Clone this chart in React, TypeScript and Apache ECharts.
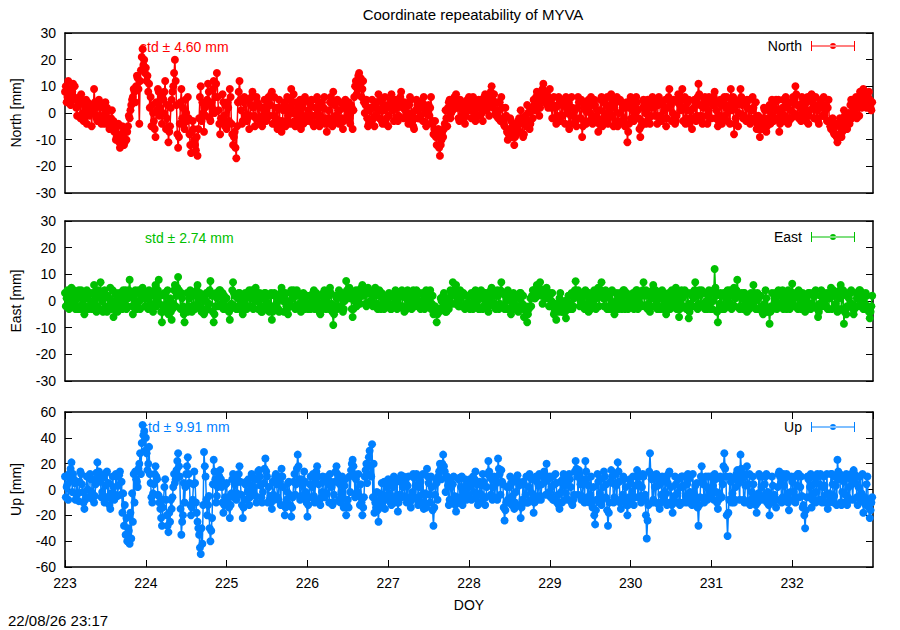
import React, { useEffect, useRef } from "react";
import * as echarts from "echarts";

// Sampling: first epoch (DOY) and step in days between plotted epochs.
// "Main" epochs are at START + i*STEP, "fill" epochs half a step later.
const START_DOY = 223;
const STEP_DAYS = 0.02;

// North residuals [mm], main epochs, 50 per day, DOY 223..232
const northValues = [
  8, 4, 12, 7, 5, 11, 10, 2, 3, 6, 7, 0, -2, 5, 4, -1, 1, 3, 9, 2, -3, 5, 3, -2, -1, 4, 2, -3, -5, 1, -3, -6, -9, -4, -13, -8, -7, -11, -10, -5, -2, 3, 6, 8, 10, 13, -4, 16, 24, 20,
  17, 14, 11, 6, 3, -3, -9, 1, 8, 2, -4, 5, 12, -2, -11, -5, 5, 10, 20, 3, -13, -4, 9, 2, -6, 0, 6, -8, -15, -3, -10, -14, -16, -2, 10, 4, -7, -1, 5, 8, -3, 2, 12, 6, 15, 1, -8, -3, 4, -5,
  -6, 2, 9, -4, -12, -7, -17, 4, 12, 1, -3, 6, 5, -2, -6, 3, 8, -1, -2, 4, 3, -4, -5, 2, 1, -2, 6, 3, 8, -1, -4, 2, 2, -3, -7, 1, 4, -3, -1, 5, 9, 0, -3, 4, 2, -2, -6, 3, 5, -1,
  -2, 4, 3, -1, -5, 2, 6, -3, -1, 4, 2, -4, -7, 1, 4, -2, 8, 3, -3, 1, 1, -3, -6, 2, 4, -1, -2, 3, -6, 6, 12, 9, 15, 13, 9, 4, 3, -2, -4, 2, 5, -2, -1, 4, 7, 1, -3, 3, 6, -2,
  -5, 2, 7, 1, 2, -2, -3, 4, 8, 2, 4, -1, -2, 3, 5, -3, -6, 1, 3, -2, -1, 4, 6, 0, -4, 3, 2, -4, -8, -3, -12, -6, -16, -10, -9, -4, -2, 2, 5, 0, 1, 6, 7, 2, -3, 3, 4, -2, -1, 5,
  6, 1, 2, 5, -3, 3, 5, -1, 0, 4, 7, 1, 3, 6, 10, 2, 4, -1, -2, 4, 6, -2, -5, -1, -10, -6, -3, -8, -12, -4, -6, -2, 1, -4, -8, -1, 3, -3, -4, 2, 5, 1, 8, 3, 2, 7, 11, 4, 6, 2,
  9, 2, 3, -2, -4, 3, 5, -1, -1, 4, 6, 0, -6, -1, 2, -4, -3, 2, 4, -2, -9, -3, 1, 4, 5, 0, -2, 3, 3, -3, -7, 1, 6, -2, 0, 3, -4, 1, 7, -1, 2, 4, -5, 0, 4, -3, -2, 2, -11, -4,
  6, 1, -3, 2, 4, -2, -9, -3, 5, 0, 1, 4, -4, 2, 5, -1, -1, 3, 4, -3, 3, 1, -5, 2, 9, 3, 0, -2, -3, 4, 6, 1, 9, 2, -4, 1, 5, -2, -6, 2, 4, -1, 11, 3, -3, 2, 6, -1, 1, 4,
  -2, 3, 8, 1, -5, -1, 3, -2, 6, 2, -3, 3, 9, 1, -8, -2, 4, 0, 9, 3, -1, 4, 5, -2, -4, 1, 2, -3, -6, -1, -9, -3, -2, 1, -7, -2, 3, -1, -1, 2, 5, -2, -7, 0, 2, -3, 6, 2, -3, 1,
  4, 0, 10, 3, -2, 2, 6, -1, 1, 4, -4, 1, 7, 2, 3, -2, -3, 2, 5, -1, -1, 3, 2, -3, -6, -2, -8, -4, -11, -5, -4, -7, 1, -3, -6, 0, 3, -2, 5, 1, -2, 4, 8, 2, 9, 4, 2, 6, 5, 1,
];
// North residuals [mm], fill epochs
const northFill = [
  10, 6, 9, 3, 8, 6, 5, -1, 5, -2, 4, -3, 2, -4, 1, 3, -5, 0, 4, -2, 3, -1, -4, 2, -4, 0, -2, -6, -2, -4, -7, -10, -5, -11, -9, -5, -12, -6, -7, -1, 1, 5, 9, 4, 14, 9, 12, 21, 18, 15,
  12, 8, 2, -5, 0, -6, 4, 9, -1, 6, 0, 8, -6, 3, -7, 2, 8, 15, 12, -8, -9, 4, -2, -4, 5, -3, -2, -12, -7, -6, -12, -9, -6, 6, -3, 0, 2, 3, 11, -2, 4, 9, 0, 11, 6, -4, -2, 7, -1, 3,
  4, -3, 6, -8, -9, -13, -5, 8, 5, -4, 4, -1, -3, 5, -1, 6, 2, -5, 6, -2, -4, 2, -1, 5, -3, 4, -1, 7, -4, 6, -2, -6, 5, -4, -3, 3, -5, 6, 2, -4, 4, 7, -5, 0, -4, 5, 2, -4, 6, -3,
  1, -3, 5, -4, -1, 5, 1, -5, 3, -2, 6, -2, -3, -4, 6, -5, 4, -1, 5, -4, 4, -2, -3, 5, 1, 4, -4, 2, 1, 10, 7, 14, 11, 6, 12, 0, 5, -5, 1, -3, 2, -5, 4, 1, -2, 5, -4, 1, -4, 3,
  -1, 5, 3, -3, 5, 2, -1, 6, 4, -2, 1, 3, -4, 6, 0, -5, -2, 5, -2, 4, 2, -3, 3, -5, 1, -1, 6, -3, -6, -9, -8, -13, -12, -7, -6, 1, -5, 4, -2, 3, 5, 2, 4, -2, 5, -1, 1, -4, 3, 1,
  3, -2, 6, 0, 4, -1, 2, 5, -3, 6, 3, 5, -1, 8, 5, 7, 0, 4, 1, -3, 2, -4, 2, -7, -8, -2, -9, -5, -9, -8, -3, -7, -2, -9, -3, -5, 0, -6, 1, -2, 3, 6, 4, -1, 5, 9, 6, 8, 3, 5,
  5, -2, 6, 2, -1, 6, -3, 3, 5, -4, 2, 4, -4, 6, -1, 1, -5, 6, -2, 5, -5, 3, -4, 2, -3, 6, -4, 5, -1, 1, -4, 5, -5, 4, -3, 6, -2, 3, 5, -5, -3, 6, -4, 5, -3, 2, -5, 4, -7, 2,
  -2, 4, -1, 6, 1, -6, -5, 2, 3, -4, 5, -2, -1, 6, 2, 3, -4, 6, -1, 4, -2, 5, -2, 6, 4, -3, 5, -4, -1, 7, 3, 5, -3, 6, -2, 4, -4, 1, -2, 5, -3, 6, 7, -1, -4, 5, 3, -4, 6, -2,
  5, 6, -2, 4, -3, 5, -4, 4, -1, 6, 1, -4, 5, 6, -4, 3, -5, 5, 6, -2, 4, -3, 2, 5, -3, 6, -2, 4, -4, -6, -5, -6, 2, -4, -5, 1, -4, 5, -3, 4, 1, 5, -4, -3, 5, -1, 3, -4, 4, -2,
  6, 5, 7, -1, 3, -3, 4, 2, -3, 6, -1, 5, 4, -2, 6, 1, -4, 4, -1, 6, 2, -3, 5, -5, -3, -7, -5, -9, -8, -2, -9, -3, -1, -5, -2, -4, 5, -1, 2, 6, 3, -1, 6, 5, 3, 7, 4, 8, 2, 4,
];

// East residuals [mm], main epochs
const eastValues = [
  3, 1, -1, 2, 5, 0, 1, -2, -3, 2, 4, -1, -5, 1, 2, -2, 0, 3, 6, 1, -2, 2, 7, 0, 1, -2, -4, 1, 5, -1, -6, 0, 2, -2, -1, 3, 4, -1, -3, 1, 8, 2, -5, 0, 3, -2, 0, 2, 5, 1,
  -2, 1, 4, -1, -3, 2, 6, 0, 8, 2, -8, -2, 2, -1, -5, 1, -7, -1, 6, 2, 9, 3, 3, -2, -8, -3, -4, 1, 2, -2, -2, 2, 6, 0, 1, -3, -5, 0, 3, -1, 7.5, 2, -8, -2, 1, 3, 4, -1, -3, 1,
  1, -2, -7, -1, 7, 2, -3, 1, 3, -1, -5, 0, 2, -2, 4, 1, -2, 2, 5, 0, 0, -2, -4, 1, 3, -1, -1, 2, -7, -2, 2, -1, -3, 1, 5, 0, 1, -2, -5, 0, 4, 1, -2, 2, 3, -1, -4, 0, 1, -2,
  2, -1, -3, 1, 4, -1, 0, 2, -5, -1, 3, 0, -2, 2, 5, -1, -9, -2, 1, -2, 3, 1, -4, 0, 7.5, 3, 5, 1, -6, 0, 4, 2, 1, 3, 6, 2, -1, 3, 3, 0, 0, 2, 5, -1, -2, 2, 3, -2, -1, 1,
  1, -1, -3, 2, 3, 0, -1, 2, 2, -2, -4, 1, 4, -1, 0, 2, -2, 1, 3, -1, -3, 0, 2, -2, -1, 1, 4, -1, -5, -2, -8, -3, -3, 0, 2, -1, -4, -1, 1, 3, 7, 2, 6, 0, -2, 1, 3, -2, -1, 2,
  2, -1, -2, 1, 4, 0, -3, 1, 1, -2, 3, 0, -4, 1, 5, 2, -1, 2, 2, -1, 7, 3, -3, 0, 4, 1, -5, -1, 1, -2, -2, 1, 3, -1, -6, -2, -8, -3, 1, 2, 4, 1, 6, 3, 7, 2, 2, 4, 5, 1,
  3, 0, -2, -4, -7, -2, 1, -1, -4, 0, -6.5, -2, 2, -1, -3, 1, 7.4, 2, 3, 0, -1, 2, 4, -1, -4, 0, 2, -2, -2, 1, 5, 2, 7, 1, 1, -2, -3, 1, 3, -1, -5, 0, 2, -2, 0, 2, 4, -1, -2, 1,
  1, -1, -3, 1, 4, 0, -1, 2, 7, 3, 2, -1, -4, 1, 6, 2, 0, -2, -3, 1, 3, -1, -5, 0, 2, -2, -2, 1, 5, 0, -6, -1, 1, 2, 3, -2, -6.5, -1, 2, 1, 7, 2, -1, 3, 4, -1, -3, 0, 2, -2,
  3, 0, 12, 2, -8, -1, 2, -2, -3, 1, 4, -1, -1, 2, 5, 1, 8, 2, -2, 1, 3, -1, -4, 0, 1, 2, 6, 0, -3, 1, 2, -2, -5, -1, 1, -3, -8.5, -2, -3, 1, 2, -1, -1, 2, 4, 0, -2, 1, 3, -1,
  6.5, 1, -2, 2, 4, -1, 1, -2, -4, 0, 3, -1, -1, 2, 2, -2, -6, -1, 4, 1, 0, -2, -3, 1, 5, 2, 2, -1, -4, 1, 6, 2, -8.5, -3, -2, 1, 3, -1, -5, -2, 1, 2, 4, 0, -3, -1, 2, -3, -6.5, -2,
];
// East residuals [mm], fill epochs
const eastFill = [
  -2, 4, -3, 3, -2, 4, -3, 2, 4, -3, 1, 3, -2, 4, -3, 3, -3, -1, 3, -4, 4, -3, 3, -4, 4, -3, 2, -2, -3, 4, -3, 3, -4, 3, 1, -3, 2, 4, -2, 4, 3, -2, 1, 4, -3, 4, -3, 3, 1, -2,
  3, -3, 2, 3, -4, 4, -2, 4, -1, -4, -4, 3, -3, 4, -2, -4, -3, 4, -2, 5, 4, -3, 1, -5, -4, 3, -2, 4, -4, 3, -3, 4, -2, 3, -4, 2, -4, 3, -3, 4, 3, -4, -5, 3, -2, 4, -2, 3, 2, -3,
  -3, -4, -3, 4, 3, -2, -3, 3, -3, 2, -3, 3, -3, 2, -2, 4, -3, 4, 2, -3, 3, -4, -2, 3, -3, 2, -4, 3, -4, 3, -3, 2, -4, 3, 2, -4, 3, -3, -2, 3, -2, 4, -3, 4, -2, 2, -2, 3, -3, 2,
  -3, 2, -2, 3, -3, 3, -3, -4, 2, -3, 4, -3, 3, -3, 3, -4, -5, 2, -3, 4, -2, 3, -3, 2, 4, 1, 3, -3, -3, 3, -2, 4, -1, 5, 3, 4, -2, 5, -1, 3, -2, 4, 2, -3, 4, -3, 1, -3, 2, -2,
  3, -3, 2, -2, 4, -3, 3, -2, 4, -3, 2, -3, 3, -2, -3, 4, -2, 4, -2, 3, -2, 3, -3, 4, -2, 3, -3, 2, -4, -3, -5, -4, 1, -3, 3, -4, 1, -3, 4, -1, 4, -1, 3, -2, 4, -2, 3, -3, 2, -2,
  -3, 3, -3, 3, -2, 3, -3, 4, -3, 3, -2, 3, -2, 4, -1, 3, -3, 4, -3, 4, 3, -2, 2, -3, 3, -3, -2, 3, -3, 2, -4, 3, -3, 2, -3, -4, -5, -2, -2, 4, 1, 4, 2, 5, 3, -1, 3, 1, 3, -2,
  -2, 3, -5, -1, -3, -4, 3, -4, -2, -4, -3, 2, -3, 3, -2, 4, 3, 4, -2, 3, 3, -3, 2, -3, 3, -3, -2, 4, -3, 3, -2, 4, 2, -2, 4, -3, 2, -3, 4, -3, -2, 3, -3, 3, -3, 4, -3, 3, -3, 2,
  -2, 3, -2, 4, -3, 3, -2, 4, -2, 4, -3, 3, -2, 4, -2, 4, -3, 2, -3, 4, -3, 2, -3, 3, -3, 4, -2, 3, -3, 3, -3, 4, -2, 4, -3, 3, -4, 3, -2, 4, 3, -3, 4, -2, 3, -2, 3, -3, 4, -3,
  -3, 4, 5, -4, -3, 3, -3, 3, -2, 3, -2, 4, -3, 3, -2, 4, 3, -3, 3, -3, 3, -3, 2, -3, 3, -2, 3, -3, 3, -3, 2, -4, -2, 4, -4, -4, -4, 3, -2, 3, -3, 4, -2, 3, -3, 3, -3, 4, -3, 3,
  3, -2, 3, -3, 3, -3, 3, -3, 2, -3, 3, -3, 3, -2, 4, -3, -4, 2, -2, 3, -2, 3, -3, 3, -3, 4, -2, 3, -3, 4, -3, 4, -4, -5, 3, -2, 4, -3, -3, 3, -2, 4, -2, 3, -3, 3, -2, -4, -4, 2,
];

// Up residuals [mm], main epochs
const upValues = [
  10, 2, -8, 8, 21, 12, 5, -4, -3, 6, 12, -2, -15, -6, 0, 9, 8, -3, -10, 4, 21, 14, 6, -2, -5, 3, 14, 5, -15, -6, 2, -4, 10, 3, 14, 6, -3, -12, -22, -30, -42, -38, -25, -10, 8, 2, 20, 12, 50, 45,
  40, 15, 33, 5, -10, 4, 18, 8, -5, -15, -28, -8, 8, -20, -33, -25, -15, 2, 5, 15, 28, 10, -35, -20, -10, 12, 25, 5, -20, -8, 14, -10, -25, -35, -50, -42, 29, 10, -20, -5, -40, -22, 23, 8, -5, 6, 15, 2, -18, -6,
  5, -6, -22, -3, 12, 4, -8, 6, 18, -4, -22, -8, 6, -2, -12, 3, 10, 2, -5, 8, 15, 3, -10, 5, 24, 10, 2, -5, -15, -4, 10, 4, -8, 6, 16, 2, -20, -8, 5, -4, -21, -6, 12, 4, 27, 8, -5, 3, 14, -2,
  -21, -6, 10, 2, -5, 7, 18, 4, -12, -2, 6, -4, -3, 5, 12, 2, -10, 6, 18, 8, 4, -2, -7, 3, -20, -8, 10, 15, 23, 12, 8, -2, -5, 4, -20, -6, 15, 5, 25, 12, 35, 20, -10, -2, -25, -8, 5, -4, -15, 2,
  8, -3, -12, 2, 5, -5, -17, -4, 11, 2, -5, 4, 3, -6, -14, -2, 9, 3, -8, 2, 6, -4, -15, -3, 16, 5, -10, 2, -28, -4, 5, 10, 20, 8, 27, 14, 10, 3, -8, 2, 4, -5, -17, -6, 9, 2, -12, -2, 3, -4,
  -5, 3, 6, -2, 14, 4, -10, -3, 3, 6, -12, 2, 22, 10, 8, 2, -6, 5, 24, 12, 15, 4, -24, -10, -8, 2, 5, -5, -15, -2, 11, 3, -22, -8, 4, -4, -10, 2, 9, -3, -18, -5, 6, 3, -5, 4, 12, 6, 20, 8,
  10, 2, -8, 4, 5, -4, -15, -2, 8, 3, -3, 5, 12, 2, -12, -4, 22, 10, 15, 4, -5, 6, 22, 8, 3, -4, -10, 2, -27, -8, 6, -3, -12, 2, 10, 4, -28, -10, 15, 5, -6, 3, 21, 6, -15, -4, 8, 2, -20, -6,
  5, -2, -12, 3, 15, 4, -5, 2, 10, -4, -38, -12, 28, 8, -8, 2, 12, 3, -15, -4, 6, -2, -3, 5, 14, 2, -18, -5, 4, -3, -10, 2, 10, 3, -5, 4, 8, -2, -12, -3, 3, 5, -28, -6, 18, 4, -6, 2, 10, -2,
  -4, 3, 12, -2, -15, -3, 8, 4, 28, 10, -36, -8, 6, -3, -10, 2, 15, 5, 27, 8, -8, 3, 18, 4, -12, -2, 4, -5, -18, -3, 10, 2, -5, 4, 12, -2, -20, -6, 3, -4, -14, 2, 14, 5, -6, 3, 9, -3, -16, -2,
  6, -2, -10, 3, 12, 2, -5, -12, -30, -6, 8, 2, -14, -3, 5, -2, 10, 4, -8, 2, 3, -4, -15, -3, 12, 4, -5, 3, 23, 8, -10, -2, 6, -4, -12, 2, 8, 4, 15, 5, -6, 2, 10, -3, -18, -6, 4, -8, -22, -10,
];
// Up residuals [mm], fill epochs
const upFill = [
  -6, 4, 12, 16, -2, 8, -8, 6, -9, 14, 4, -10, -8, 10, -6, 12, -7, 8, -5, 13, 8, 12, -6, 9, -10, 13, -6, -12, -3, 10, -8, 12, -5, 11, -4, -18, -28, -35, -40, -32, -18, -3, 12, 14, 6, 16, 28, 36, 42, 30,
  28, 20, 12, -6, -3, 12, 10, -4, -10, -22, -14, 2, -8, -28, -18, -8, -6, 12, 8, 22, 18, -15, -25, 5, 2, 18, 12, -12, -14, 4, 5, -18, -30, -45, -30, -12, 18, -8, -12, -30, -32, 4, 14, -10, 2, 10, 8, -10, -12, 4,
  -10, -14, -12, 8, -6, 10, -3, 12, 6, -12, -14, 4, -8, 8, -6, 12, -2, 8, -10, 14, 10, -6, -2, 16, 14, -10, -8, -10, 6, -8, 12, -6, 10, -12, 10, -12, -14, -2, 6, -12, -14, 6, -4, 16, 18, -8, 8, -6, 6, -10,
  -12, 4, -6, 12, -10, 14, 10, -8, -6, 10, -6, 8, 10, -10, 6, -12, -4, 14, 12, -8, -10, 10, -14, 8, -12, -14, -2, 20, 18, -6, -4, 12, -12, -10, -14, 10, 20, 18, 30, 10, -6, -18, -14, -16, -3, -10, -14, 6, -8, -6,
  6, -10, -6, 10, -10, 8, -10, 6, -6, 10, 8, -10, 10, -10, -8, 12, -6, 12, -12, 10, -10, 12, -10, -14, 10, -4, 10, -16, -14, 8, -8, 14, 16, 20, 18, -2, 10, -12, 8, -10, 10, -12, -10, 8, -10, 10, -6, 8, -8, 6,
  8, -8, 10, 8, -6, -12, 6, -10, 12, -6, -6, 12, 14, -4, -8, 10, 8, -8, 16, -4, 6, -14, -16, 2, -10, 10, -12, 6, -10, 8, 6, -12, -14, 6, -10, 10, -10, 12, -8, 8, -10, 10, -8, 12, -8, 10, 14, -4, 10, -2,
  -6, 10, -8, 12, -10, -12, 6, -10, 12, -8, 10, -8, 8, -10, -8, 14, 16, -4, 12, -8, 8, -10, 14, -6, -10, 10, -14, -20, -16, 12, -10, 8, -8, 14, -6, -16, -18, 6, 10, -10, 12, -8, 14, -10, -8, 10, -10, -12, -12, 8,
  -8, 10, -6, 10, -6, 10, -10, 12, -8, -20, -24, 14, 12, -10, 10, -10, 8, -12, -10, 10, -8, 10, -12, 12, -10, -12, -10, 10, -10, 8, -12, 10, -10, 10, -10, 12, -10, -8, 12, -10, -10, -14, -12, 10, 6, -10, 10, -8, -6, 10,
  10, -8, 8, -10, -8, 10, -6, 18, 16, -20, -18, 10, -10, 8, -8, 12, 8, -8, 16, 12, -10, 12, -10, 12, -8, 10, -10, -12, -10, 12, -8, 10, -8, 10, -10, -12, -10, 10, -10, -8, -8, 12, 10, -10, 12, -8, 12, -10, -8, 10,
  -8, 10, -6, 12, -6, 10, -14, -20, -16, 10, -6, 12, -8, 10, -10, 12, -8, 12, -10, 10, -10, 12, -10, -8, 12, -10, 10, -12, 14, 12, -12, 10, -10, 12, -6, -8, 12, -8, 12, 10, -12, 10, -8, 12, -10, -12, 10, -14, -16, -6,
];

const seriesNames = ["North", "East", "Up"];
const seriesColors = ["#ff0000", "#00c000", "#0080ff"];
const stdTexts = ["std \u00b1 4.60 mm", "std \u00b1 2.74 mm", "std \u00b1 9.91 mm"];
const yLimits = [
  { min: -30, max: 30, interval: 10 },
  { min: -30, max: 30, interval: 10 },
  { min: -60, max: 60, interval: 20 },
];
const xLimits = { min: 223, max: 233, interval: 1 };
const titleText = "Coordinate repeatability of MYVA";
const xAxisTitle = "DOY";
const timestampText = "22/08/26 23:17";

const FONT = '"Liberation Sans", Arial, sans-serif';
const LEGEND_ICON =
  "path://M0,0h1v10h-1z M43,0h1v10h-1z M0,4.5h44v1h-44z M19,5a3,3 0 1,0 6,0a3,3 0 1,0 -6,0z";

// Merge main and fill epochs into one time-ordered list of [DOY, value]
function toPairs(main: number[], fill: number[]) {
  const out: number[][] = [];
  main.forEach((v, i) => {
    const t = START_DOY + i * STEP_DAYS;
    out.push([t, v]);
    if (i < fill.length) out.push([t + STEP_DAYS / 2, fill[i]]);
  });
  return out;
}

export default function App() {
  const ref = useRef<HTMLDivElement>(null);

  useEffect(() => {
    if (!ref.current) return;
    const chart = echarts.init(ref.current, undefined, { renderer: "svg" });
    const mains = [northValues, eastValues, upValues];
    const fills = [northFill, eastFill, upFill];

    const grids = [
      { left: 65, right: 27, top: 33, height: 160 },
      { left: 65, right: 27, top: 221, height: 160 },
      { left: 65, right: 27, top: 412, height: 155 },
    ];

    const axisLineStyle = { color: "#000", width: 1.5 };
    const tickStyle = { color: "#000", width: 1 };

    const xAxes: any[] = [];
    const yAxes: any[] = [];
    grids.forEach((_, i) => {
      const isBottom = i === 2;
      xAxes.push({
        gridIndex: i,
        type: "value",
        position: "bottom",
        min: xLimits.min,
        max: xLimits.max,
        interval: xLimits.interval,
        axisLine: { show: true, onZero: false, lineStyle: axisLineStyle },
        axisTick: { show: isBottom, inside: true, length: 7, lineStyle: tickStyle },
        axisLabel: {
          show: isBottom,
          showMaxLabel: false,
          color: "#000",
          fontSize: 14,
          fontFamily: FONT,
          margin: 9,
        },
        splitLine: { show: false },
        name: isBottom ? xAxisTitle : "",
        nameLocation: "middle",
        nameGap: 31,
        nameTextStyle: { color: "#000", fontSize: 14, fontFamily: FONT },
      });
      xAxes.push({
        gridIndex: i,
        type: "value",
        position: "top",
        min: xLimits.min,
        max: xLimits.max,
        interval: xLimits.interval,
        axisLine: { show: true, onZero: false, lineStyle: axisLineStyle },
        axisTick: { show: isBottom, inside: true, length: 7, lineStyle: tickStyle },
        axisLabel: { show: false },
        splitLine: { show: false },
      });
      yAxes.push({
        gridIndex: i,
        type: "value",
        position: "left",
        min: yLimits[i].min,
        max: yLimits[i].max,
        interval: yLimits[i].interval,
        axisLine: { show: true, onZero: false, lineStyle: axisLineStyle },
        axisTick: { show: true, inside: true, length: 7, lineStyle: tickStyle },
        axisLabel: { color: "#000", fontSize: 14, fontFamily: FONT, margin: 9 },
        splitLine: { show: false },
        name: seriesNames[i] + " [mm]",
        nameLocation: "middle",
        nameGap: 42,
        nameTextStyle: { color: "#000", fontSize: 14, fontFamily: FONT },
      });
      yAxes.push({
        gridIndex: i,
        type: "value",
        position: "right",
        min: yLimits[i].min,
        max: yLimits[i].max,
        interval: yLimits[i].interval,
        axisLine: { show: true, onZero: false, lineStyle: axisLineStyle },
        axisTick: { show: true, inside: true, length: 7, lineStyle: tickStyle },
        axisLabel: { show: false },
        splitLine: { show: false },
      });
    });

    const series = mains.map((vals, i) => ({
      name: seriesNames[i],
      type: "line",
      xAxisIndex: i * 2,
      yAxisIndex: i * 2,
      data: toPairs(vals, fills[i]),
      symbol: "circle",
      symbolSize: 8,
      showSymbol: true,
      showAllSymbol: true,
      z: 3,
      lineStyle: { color: seriesColors[i], width: 1.5 },
      itemStyle: { color: seriesColors[i] },
      emphasis: { disabled: true },
    }));

    const legendTops = [39, 230, 420];
    const legends = seriesNames.map((name, i) => ({
      data: [{ name, icon: LEGEND_ICON }],
      right: 45,
      top: legendTops[i],
      align: "right",
      itemWidth: 44,
      itemHeight: 10,
      padding: 0,
      selectedMode: false,
      textStyle: { color: "#000", fontSize: 14, fontFamily: FONT, padding: [0, 4, 0, 0] },
    }));

    const stdTops = [40, 231, 420];
    const stdLefts = [140, 145, 141];
    const graphics: any[] = stdTexts.map((t, i) => ({
      type: "text",
      left: stdLefts[i],
      top: stdTops[i],
      z: 1,
      style: { text: t, fill: seriesColors[i], font: `14px ${FONT}` },
    }));
    graphics.push({
      type: "text",
      left: 8,
      top: 613,
      style: { text: timestampText, fill: "#000", font: `15px ${FONT}` },
    });

    chart.setOption({
      animation: false,
      backgroundColor: "#fff",
      title: {
        text: titleText,
        left: 468,
        textAlign: "center",
        top: 2,
        textStyle: { color: "#000", fontSize: 15, fontWeight: "normal", fontFamily: FONT },
      },
      grid: grids,
      xAxis: xAxes,
      yAxis: yAxes,
      legend: legends,
      graphic: graphics,
      series,
    });

    return () => chart.dispose();
  }, []);

  return (
    <div
      ref={ref}
      style={{ position: "fixed", left: 0, top: 0, width: 900, height: 630, background: "#fff" }}
    />
  );
}
